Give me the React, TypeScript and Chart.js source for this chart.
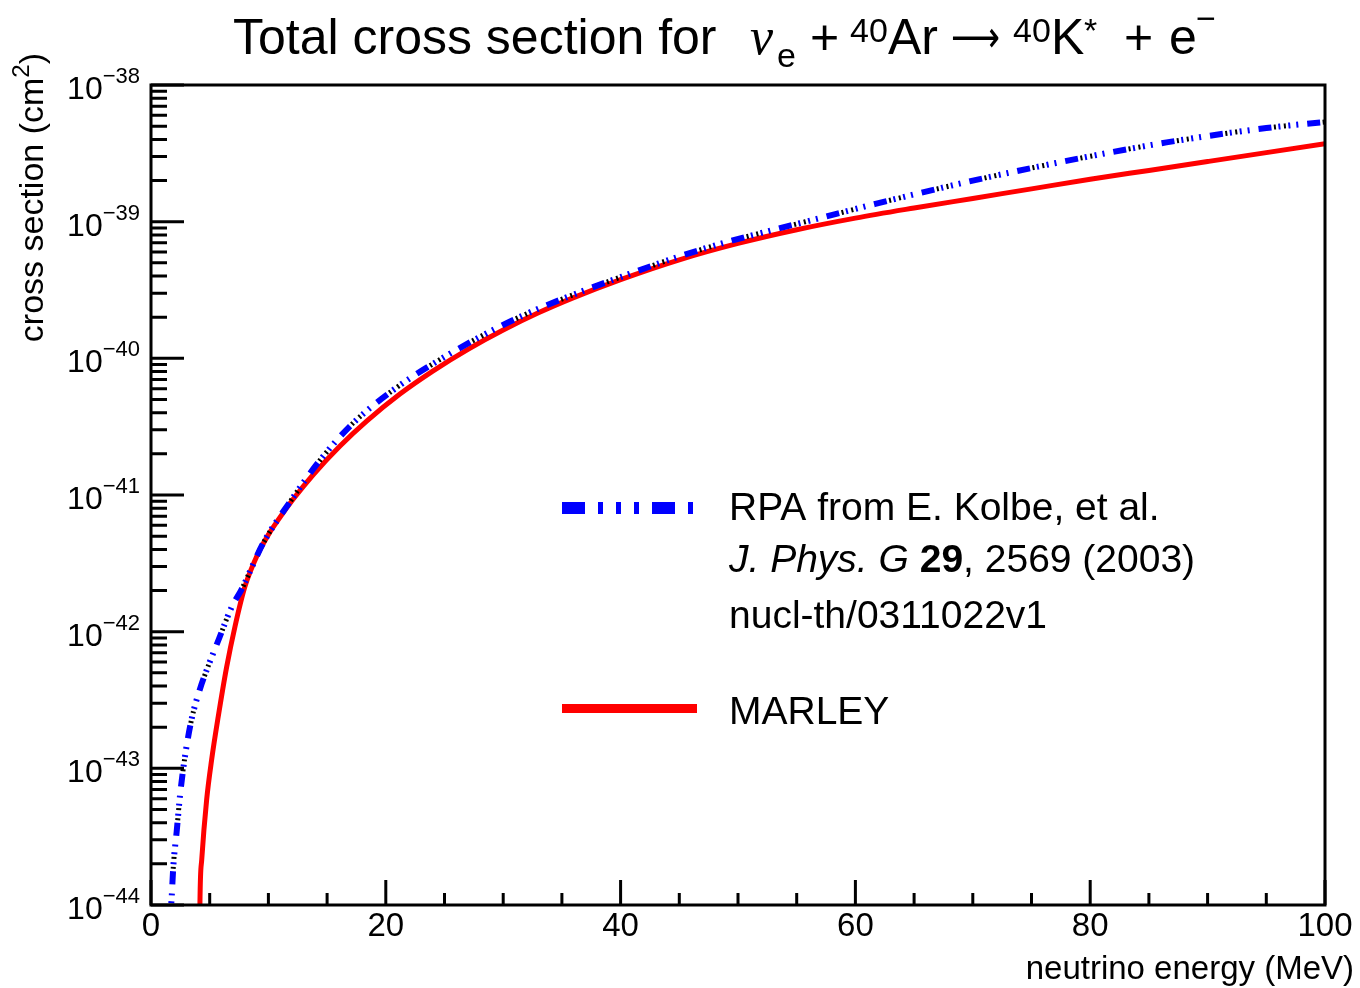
import React, { useEffect, useRef } from "react";
import { Chart, registerables } from "chart.js";

Chart.register(...registerables);

// ---- data ----
// neutrino energy (MeV) and log10(cross section / cm^2)
const rpaEnergy = [1.5, 1.6, 1.7, 1.76, 1.9, 2.19, 2.47, 2.9, 3.46, 4.17, 4.88, 5.8, 6.87, 7.72, 9.57, 11.84, 14.4, 17.2, 20.9, 24.6, 28.3, 32.1, 36.4, 40.5, 44.8, 49.0, 53.0, 57.4, 61.7, 70.0, 78.3, 86.5, 95.0, 100.0];
const rpaLogXS = [-46.0, -44.6, -44.05, -43.95, -43.72, -43.46, -43.2, -42.91, -42.64, -42.42, -42.25, -42.05, -41.82, -41.69, -41.35, -41.05, -40.745, -40.475, -40.215, -40.01, -39.83, -39.67, -39.52, -39.39, -39.26, -39.15, -39.06, -38.965, -38.87, -38.7, -38.55, -38.42, -38.315, -38.27];

const marleyEnergy = [4.05, 4.12, 4.17, 4.32, 4.74, 5.16, 5.73, 6.44, 7.16, 8.0, 9.0, 10.0, 10.85, 12.12, 13.83, 16.1, 18.37, 21.2, 24.0, 27.0, 30.0, 33.0, 36.0, 40.0, 45.0, 50.0, 55.0, 60.0, 65.0, 70.0, 75.0, 80.0, 85.0, 90.0, 95.0, 100.0];
const marleyLogXS = [-46.5, -44.6, -43.98, -43.67, -43.23, -42.94, -42.62, -42.26, -41.96, -41.67, -41.45, -41.29, -41.18, -41.03, -40.85, -40.641, -40.459, -40.261, -40.093, -39.934, -39.793, -39.667, -39.556, -39.424, -39.279, -39.159, -39.059, -38.974, -38.9, -38.83, -38.76, -38.69, -38.625, -38.56, -38.495, -38.43];

const xMajorTicks = [0, 20, 40, 60, 80, 100];
const xMinorStep = 5;
const yDecades = [-44, -43, -42, -41, -40, -39, -38];

const xAxisTitle = "neutrino energy (MeV)";
const yAxisTitle = "cross section (cm";
const legendRpa = ["RPA from E. Kolbe, et al.", "J. Phys. G ", "29", ", 2569 (2003)", "nucl-th/0311022v1"];
const legendMarley = "MARLEY";

const SANS = "'Liberation Sans', Arial, Helvetica, sans-serif";
const SERIF = "'Liberation Serif', 'Times New Roman', serif";

function toPoints(xs: number[], logs: number[]) {
  return xs.map((x, i) => ({ x, y: Math.pow(10, logs[i]) }));
}

function txt(ctx: CanvasRenderingContext2D, s: string, font: string, x: number, y: number, align: CanvasTextAlign = "left") {
  ctx.font = font;
  ctx.textAlign = align;
  ctx.textBaseline = "alphabetic";
  ctx.fillText(s, x, y);
  return ctx.measureText(s).width;
}

// draw text squeezed/stretched to a given width
function fitTxt(ctx: CanvasRenderingContext2D, s: string, font: string, x: number, y: number, width: number) {
  ctx.font = font;
  ctx.textAlign = "left";
  ctx.textBaseline = "alphabetic";
  const w = ctx.measureText(s).width || 1;
  ctx.save();
  ctx.translate(x, y);
  ctx.scale(width / w, 1);
  ctx.fillText(s, 0, 0);
  ctx.restore();
}

const decor = {
  id: "rootDecor",
  afterDraw(chart: any) {
    const { ctx, chartArea: a } = chart;
    const xs = chart.scales.x;
    const ys = chart.scales.y;
    ctx.save();
    ctx.fillStyle = "#000";
    ctx.strokeStyle = "#000";

    // frame
    ctx.lineWidth = 3;
    ctx.strokeRect(a.left, a.top, a.right - a.left, a.bottom - a.top);

    // x ticks
    ctx.beginPath();
    for (let v = xMajorTicks[0]; v <= xMajorTicks[xMajorTicks.length - 1] + 1e-9; v += xMinorStep) {
      const px = xs.getPixelForValue(v);
      const len = xMajorTicks.includes(v) ? 25 : 12;
      ctx.moveTo(px, a.bottom);
      ctx.lineTo(px, a.bottom - len);
    }
    ctx.stroke();

    // y ticks
    ctx.beginPath();
    for (let i = 0; i < yDecades.length; i++) {
      const e = yDecades[i];
      const maxM = i === yDecades.length - 1 ? 1 : 9;
      for (let m = 1; m <= maxM; m++) {
        const py = ys.getPixelForValue(m * Math.pow(10, e));
        const len = m === 1 ? 33 : 16;
        ctx.moveTo(a.left, py);
        ctx.lineTo(a.left + len, py);
      }
    }
    ctx.stroke();

    // x tick labels
    for (const v of xMajorTicks) {
      txt(ctx, String(v), `33px ${SANS}`, xs.getPixelForValue(v), a.bottom + 31, "center");
    }
    // y tick labels 10^e
    for (const e of yDecades) {
      const py = ys.getPixelForValue(Math.pow(10, e));
      const ex = "\u2212" + String(-e);
      const right = a.left - 11;
      const w = txt(ctx, ex, `22px ${SANS}`, right, py - 2, "right");
      txt(ctx, "10", `32px ${SANS}`, right - w, py + 14, "right");
    }

    // x axis title
    txt(ctx, xAxisTitle, `33px ${SANS}`, 1354, 979, "right");

    // y axis title (rotated, right-aligned at top)
    ctx.save();
    ctx.translate(43, 53);
    ctx.rotate(-Math.PI / 2);
    const fMain = `34px ${SANS}`;
    const fSup = `24px ${SANS}`;
    ctx.font = fMain;
    const wMain = ctx.measureText(yAxisTitle).width;
    const wParen = ctx.measureText(")").width;
    ctx.font = fSup;
    const wSup = ctx.measureText("2").width;
    const total = wMain + wSup + wParen;
    txt(ctx, yAxisTitle, fMain, -total, 0);
    txt(ctx, "2", fSup, -total + wMain, -14);
    txt(ctx, ")", fMain, -total + wMain + wSup, 0);
    ctx.restore();

    // title:  Total cross section for  nu_e + 40Ar -> 40K* + e-
    const tb = 54;
    const fT = `50px ${SANS}`;
    const fS = `34px ${SANS}`;
    txt(ctx, "Total cross section for", fT, 233, tb);
    txt(ctx, "\u03bd", `italic 52px ${SERIF}`, 750, tb);
    txt(ctx, "e", fS, 777, tb + 13);
    txt(ctx, "+", fT, 810, tb);
    txt(ctx, "40", fS, 850, tb - 12);
    txt(ctx, "Ar", fT, 888, tb);
    fitTxt(ctx, "\u27f6", `44px 'DejaVu Sans', ${SANS}`, 951, tb - 2, 49);
    txt(ctx, "40", fS, 1013, tb - 12);
    txt(ctx, "K", fT, 1051, tb);
    txt(ctx, "*", fS, 1084, tb - 12);
    txt(ctx, "+", fT, 1124, tb);
    txt(ctx, "e", fT, 1169, tb);
    txt(ctx, "\u2212", fS, 1196, tb - 24);

    // legend
    ctx.save();
    ctx.lineCap = "butt";
    ctx.strokeStyle = "#0000ff";
    ctx.lineWidth = 12;
    ctx.setLineDash([23, 13, 5, 13, 5, 13, 5, 13]);
    ctx.beginPath();
    ctx.moveTo(562, 508);
    ctx.lineTo(697, 508);
    ctx.stroke();
    ctx.setLineDash([]);
    ctx.strokeStyle = "#ff0000";
    ctx.lineWidth = 9;
    ctx.beginPath();
    ctx.moveTo(562, 708.5);
    ctx.lineTo(697, 708.5);
    ctx.stroke();
    ctx.restore();

    const lf = 39;
    txt(ctx, legendRpa[0], `${lf}px ${SANS}`, 729, 520);
    let lx = 729;
    lx += txt(ctx, legendRpa[1], `italic ${lf}px ${SANS}`, lx, 572);
    lx += txt(ctx, legendRpa[2], `bold ${lf}px ${SANS}`, lx, 572);
    txt(ctx, legendRpa[3], `${lf}px ${SANS}`, lx, 572);
    txt(ctx, legendRpa[4], `${lf}px ${SANS}`, 729, 628);
    txt(ctx, legendMarley, `${lf}px ${SANS}`, 729, 724);

    ctx.restore();
  },
};

export default function App() {
  const ref = useRef<HTMLCanvasElement | null>(null);
  useEffect(() => {
    document.body.style.margin = "0";
    const canvas = ref.current;
    if (!canvas) return;
    const rpa = toPoints(rpaEnergy, rpaLogXS);
    const marley = toPoints(marleyEnergy, marleyLogXS);
    const chart = new Chart(canvas, {
      type: "line",
      data: {
        datasets: [
          {
            label: "RPA",
            data: rpa,
            borderColor: "#0000ff",
            borderWidth: 6,
            borderDash: [13, 7, 2, 8, 2, 6, 2, 9],
            borderCapStyle: "butt",
            pointRadius: 0,
            cubicInterpolationMode: "monotone",
            clip: 0,
            order: 1,
          },
          {
            label: "RPA (shadow)",
            data: rpa,
            borderColor: "#000000",
            borderWidth: 5,
            borderDash: [2, 8, 2, 37],
            borderDashOffset: 33.5,
            borderCapStyle: "butt",
            pointRadius: 0,
            cubicInterpolationMode: "monotone",
            clip: 0,
            order: 2,
          },
          {
            label: "MARLEY",
            data: marley,
            borderColor: "#ff0000",
            borderWidth: 5,
            borderCapStyle: "butt",
            borderJoinStyle: "round",
            pointRadius: 0,
            cubicInterpolationMode: "monotone",
            clip: 0,
            order: 3,
          },
        ],
      } as any,
      options: {
        responsive: false,
        maintainAspectRatio: false,
        animation: false,
        layout: { padding: { left: 151, top: 85, right: 35, bottom: 83 } },
        plugins: {
          legend: { display: false },
          tooltip: { enabled: false },
          title: { display: false },
        },
        scales: {
          x: { type: "linear", min: 0, max: 100, display: false },
          y: { type: "logarithmic", min: 1e-44, max: 1e-38, display: false },
        },
      } as any,
      plugins: [decor],
    });
    return () => chart.destroy();
  }, []);
  return (
    <div style={{ width: 1360, height: 988, background: "#fff" }}>
      <canvas ref={ref} width={1360} height={988} style={{ display: "block" }} />
    </div>
  );
}
